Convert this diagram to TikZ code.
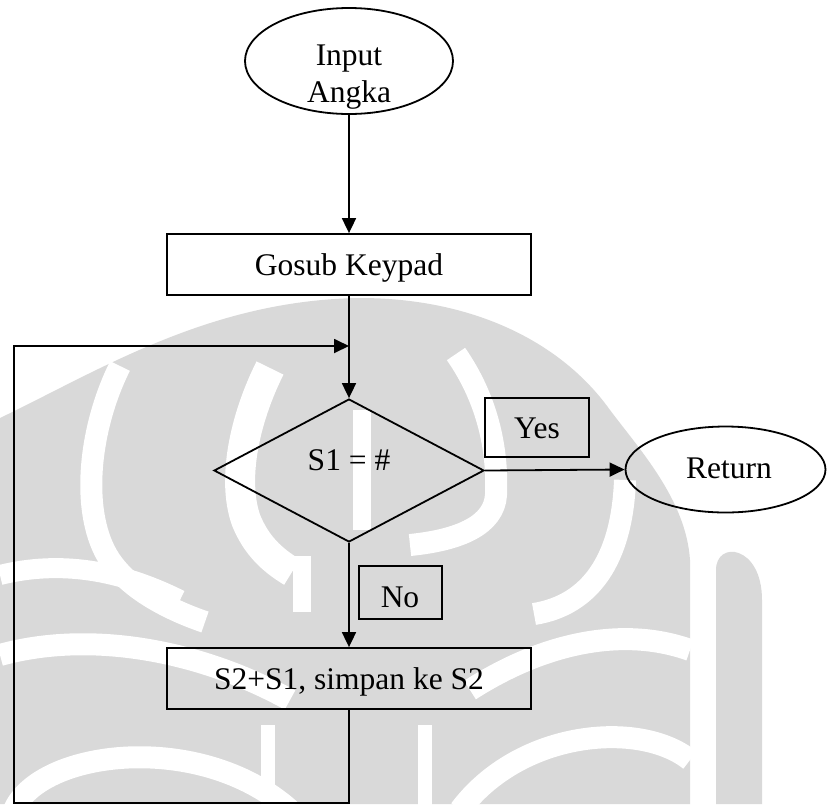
\documentclass[tikz,border=0pt]{standalone}
\usepackage{fontspec}
\setmainfont{Liberation Serif}
\usetikzlibrary{shapes.geometric,arrows.meta}
\definecolor{wm}{RGB}{217,217,217}
\begin{document}
\begin{tikzpicture}[x=1pt,y=-1pt,
  font=\fontsize{31.5}{36}\selectfont,
  outline/.style={draw, line width=1.8pt},
  procbox/.style={outline, rectangle, minimum width=364pt, minimum height=61pt,
                  inner sep=0pt, text height=21pt, text depth=0pt},
  oval/.style={outline, ellipse, inner sep=0pt},
  tagbox/.style={draw, line width=1.6pt, rectangle, inner sep=0pt,
                 text height=21pt, text depth=0pt},
  txt/.style={inner sep=0pt, anchor=base},
  arrowline/.style={line width=1.8pt, -{Triangle[length=15pt,width=14pt]}},
  wmstripe/.style={white, line cap=butt},
]
\useasboundingbox (0,0) rectangle (827,804);

% faded emblem in the background
\fill[wm] (0,418) .. controls (100,370) and (210,300) .. (360,298)
          .. controls (470,298) and (560,340) .. (610,410)
          .. controls (640,450) and (686,500) .. (690,560)
          -- (690,804) -- (0,804) -- cycle;
\fill[wm] (716,804) -- (716,570) .. controls (716,540) and (762,545) .. (762,600)
          -- (762,804) -- cycle;
% nested arches
\draw[wmstripe, line width=22pt] (120,366) .. controls (88,430) and (80,515) .. (110,560)
      .. controls (130,590) and (170,610) .. (205,622);
\draw[wmstripe, line width=30pt] (270,368) .. controls (244,420) and (232,480) .. (246,520)
      .. controls (256,545) and (272,560) .. (292,572);
\draw[wmstripe, line width=18pt] (362,410) -- (362,530);
\draw[wmstripe, line width=18pt] (302,556) -- (302,612);
\draw[wmstripe, line width=22pt] (456,354) .. controls (488,400) and (498,450) .. (496,495)
      .. controls (494,525) and (460,540) .. (410,545);
\draw[wmstripe, line width=22pt] (625,480) .. controls (622,560) and (590,605) .. (534,614);
% lower waves
\draw[wmstripe, line width=20pt] (0,575) .. controls (60,560) and (120,570) .. (180,600);
\draw[wmstripe, line width=22pt] (0,655) .. controls (90,630) and (200,650) .. (290,700);
\draw[wmstripe, line width=22pt] (14,810) .. controls (40,750) and (200,730) .. (290,810);
\draw[wmstripe, line width=14pt] (268,725) -- (268,810);
\draw[wmstripe, line width=14pt] (425,725) -- (425,810);
\draw[wmstripe, line width=22pt] (690,650) .. controls (620,625) and (540,645) .. (470,690);
\draw[wmstripe, line width=22pt] (460,810) .. controls (520,730) and (640,720) .. (690,760);

% flowchart shapes
\node[oval, minimum width=208pt, minimum height=106pt] (start) at (349,61) {};
\node[txt] (startA) at (349,65) {Input};
\node[txt] (startB) at (349,102) {Angka};

\node[procbox] (gosub) at (349,264.5) {Gosub Keypad};

\node[outline, diamond, minimum width=270pt, minimum height=143pt, inner sep=0pt]
     (dec) at (349,470.5) {};
\node[txt] (decT) at (349,470) {S1 = \#};

\node[tagbox, minimum width=104pt, minimum height=59pt] (yes) at (537,427.5) {Yes};

\node[oval, minimum width=200pt, minimum height=86pt] (ret) at (725.5,469.5) {};
\node[txt] (retT) at (729,478) {Return};

\node[tagbox, minimum width=83pt, minimum height=53pt] (no) at (400.5,592.5) {};
\node[txt] (noT) at (400,607) {No};

\node[procbox] (store) at (349,678.5) {S2+S1, simpan ke S2};

% loop-back corners
\coordinate (lb) at (14,803);
\coordinate (lt) at (14,346);
\coordinate (join) at (349,346);

% connectors
\draw[arrowline] (start.south) -- (gosub.north);
\draw[arrowline] (gosub.south) -- (dec.north);
\draw[arrowline] (dec.east) -- (ret.west);
\draw[arrowline] (dec.south) -- (store.north);
\draw[arrowline] (store.south) |- (lb) -- (lt) -- (join);
\end{tikzpicture}
\end{document}
